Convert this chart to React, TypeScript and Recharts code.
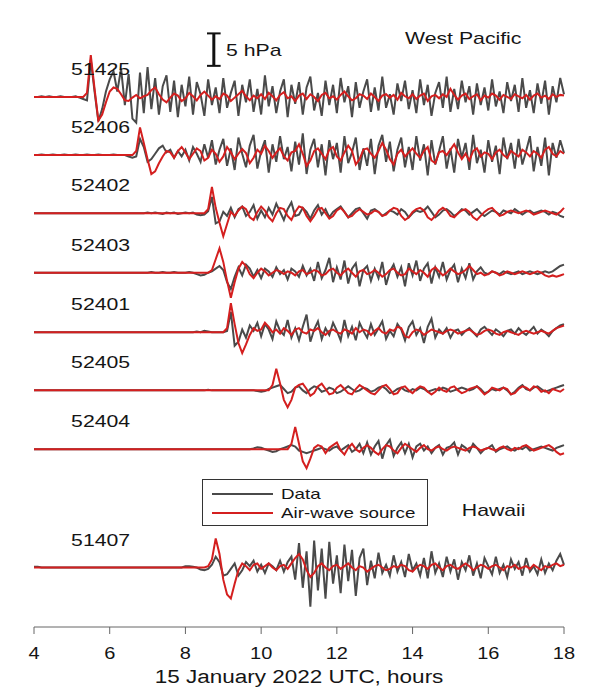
import { LineChart, Line, XAxis, YAxis, ReferenceDot, ReferenceLine } from 'recharts';

const FONT = '"Liberation Sans", Arial, Helvetica, sans-serif';
const DATA_COLOR = '#4a4a4a';
const SOURCE_COLOR = '#d41f1f';
const WIDE = 1.25; // the original lettering is drawn noticeably wide

// sample grid, hours (UTC) on 15 Jan 2022
const hours = Array.from({ length: 141 }, (_, i) => Math.round((4 + i * 0.1) * 10) / 10);
const xTicks = [4, 6, 8, 10, 12, 14, 16, 18];

const stationIds = ['51425', '52406', '52402', '52403', '52401', '52405', '52404', '51407'];

// pressure anomalies in hPa, one value per 0.1 h from 4.0 to 18.0
const data51425 = [
  0, 0, 0.1, 0, 0.1, 0, 0, 0.1, 0, 0,
  0, 0.1, -0.1, -0.3, -0.5, 5.5, 0.8, -3.6, -1.8, 0.8,
  2.6, 3.8, 0.8, 4.2, -1.2, 3.4, -3.2, -3.8, 3.6, -2.4,
  4.4, -1.8, 2.8, -2.6, 1.6, 3.2, -2.2, 2.4, -3.0, 1.8,
  -1.4, 3.0, -2.6, 2.2, 0.4, -2.8, 2.6, -1.2, 1.4, -2.4,
  2.8, -1.6, 0.6, 2.4, -2.8, 1.8, -0.8, 2.6, -2.2, 1.2,
  -2.6, 3.2, -1.4, 1.6, -2.4, 0.8, 2.6, -3.0, 1.8, -1.0,
  2.2, -2.6, 1.4, 3.0, -2.0, 0.6, -2.8, 2.4, -1.2, 1.8,
  -2.4, 2.8, -0.8, 1.6, -3.0, 2.2, -1.6, 0.8, 2.6, -2.2,
  1.4, -2.0, 3.0, -1.6, 0.4, -2.6, 2.0, -0.6, 2.4, -1.8,
  1.0, -2.4, 2.6, -1.2, 1.8, -2.8, 0.6, 2.2, -1.6, 3.0,
  -2.2, 1.2, -1.8, 2.4, -0.8, 1.6, -2.6, 2.0, -1.2, 1.4,
  -2.0, 2.6, -1.4, 0.8, -2.4, 2.2, -0.6, 1.8, -2.2, 2.8,
  -1.6, 1.0, -2.4, 2.0, -1.0, 2.4, -2.6, 1.6, -0.8, 2.8,
  0.4,
];
const source51425 = [
  0, 0, 0, 0, 0, 0, 0, 0, 0, 0,
  0, 0, 0, 0, 0.6, 6.2, 1.2, -3.5, -2.6, -0.8,
  0.8, 1.4, 1.2, 0.4, -0.5, -0.6, -0.1, 0.3, -0.2, 0.1,
  0.3, 1.0, 1.4, 0.4, -0.4, -0.8, -0.1, 0.5, 0.2, -0.6,
  -0.2, 0.6, 0.1, -0.5, 0.3, 0.8, 0.2, -0.4, 0.1, -0.3,
  0.5, 0.2, -0.6, -0.1, 0.4, 0.9, 0.1, -0.5, 0.2, -0.2,
  0.4, -0.3, 0.6, 0.1, -0.5, 0.3, 0.7, -0.2, 0.1, -0.6,
  0.2, 0.5, -0.3, 0.4, 0.0, -0.6, 0.3, 0.6, -0.2, 0.1,
  -0.4, 0.3, 0.8, 0.1, -0.5, -0.2, 0.4, 0.2, -0.3, 0.5,
  0.0, -0.6, 0.2, 0.4, -0.1, 0.3, -0.4, 0.6, 0.1, -0.2,
  0.4, -0.3, 0.2, 0.5, -0.6, 0.1, 0.3, -0.2, 0.4, 0.0,
  1.2, 0.3, -0.4, 0.2, 0.5, -0.3, 0.1, 0.4, -0.5, 0.2,
  -0.1, 0.5, 0.2, -0.4, 0.3, 0.0, -0.3, 0.4, 0.1, -0.2,
  0.3, -0.4, 0.2, 0.5, -0.1, 0.2, -0.3, 0.4, 0.0, 0.3,
  0.2,
];

const data52406 = [
  0, 0, 0.1, 0, 0, 0.1, 0, 0, 0.1, 0,
  0, 0.1, 0, 0, 0.1, 0, 0, 0.1, 0, 0,
  0, 0.1, 0, 0, 0, -0.2, -0.4, -0.2, 2.4, 1.2,
  -1.0, -0.6, 0.2, 1.0, 1.4, 0.4, 0.8, -0.4, 0.6, -0.2,
  0.8, -0.8, 1.2, 0.2, -1.0, 1.6, -0.4, 2.2, -1.4, 0.8,
  2.4, -1.6, 1.0, -2.2, 2.6, 0.2, -1.8, 1.4, 3.0, -2.0,
  0.6, 2.2, -2.6, 1.6, -1.0, 2.8, -0.6, 1.2, -2.4, 2.0,
  -1.4, 3.2, -2.8, 0.8, 2.4, -1.8, 1.6, -3.0, 2.2, -0.6,
  1.8, -2.6, 2.8, -1.2, 0.4, 2.6, -2.2, 1.0, -1.6, 2.4,
  -2.8, 1.4, 3.0, -1.0, 2.0, -2.4, 0.8, 2.6, -1.8, 1.2,
  -2.2, 2.8, -0.8, 1.6, -3.0, 2.2, -1.4, 0.6, 2.8, -2.0,
  1.0, -2.6, 2.4, -0.4, 1.8, -2.2, 3.0, -1.2, 0.8, -2.6,
  2.2, -1.0, 1.4, -2.8, 2.6, -0.6, 1.8, -2.0, 2.4, -1.4,
  0.6, 2.8, -2.4, 1.2, -1.6, 2.6, -3.0, 1.8, -0.4, 2.2,
  0.3,
];
const source52406 = [
  0, 0, 0, 0, 0, 0, 0, 0, 0, 0,
  0, 0, 0, 0, 0, 0, 0, 0, 0, 0,
  0, 0, 0, 0, 0, 0, 0, 0.6, 4.1, 1.8,
  -0.6, -2.8, -2.4, -1.2, -0.2, 0.6, 0.4, -0.4, 0.6, 1.2,
  0.4, -0.6, 0.2, 1.0, 0.6, -0.8, -0.4, 0.8, 0.2, -1.0,
  -0.2, 1.2, 0.4, -0.6, 0.2, 0.9, 0.3, -1.2, -0.4, 0.8,
  0.2, 1.4, 0.6, -0.4, 0.4, 1.0, -0.2, -0.8, 0.4, 0.6,
  1.6, 0.2, -1.6, -0.8, 0.6, 1.0, 0.2, -0.6, 0.8, 1.2,
  -0.2, -0.8, 0.4, 1.4, 0.6, -1.4, -0.6, 0.8, 1.0, 0.2,
  -0.4, 0.6, 1.8, 0.8, -0.6, -1.4, 0.2, 0.8, -0.2, 0.4,
  1.0, 0.2, -0.4, 0.6, 1.2, -0.8, -1.2, 0.4, 0.6, 0.0,
  0.8, 1.6, 0.4, -0.6, 0.2, -0.8, 0.6, 1.0, -0.2, 0.4,
  0.2, -0.6, 0.4, 0.8, 0.0, -0.4, 0.6, 0.2, -0.2, 0.8,
  0.4, -0.2, 0.6, 0.2, -0.4, 0.8, 1.2, 0.2, -0.2, 0.6,
  0.2,
];

const data52402 = [
  0, 0, 0, 0, 0, 0, 0, 0, 0, 0,
  0, 0, 0, 0, 0, 0, 0, 0, 0, 0,
  0, 0, 0, 0, 0, 0, 0, 0, 0, 0,
  0.1, 0, 0.1, 0, -0.1, 0.1, 0, 0.1, -0.1, 0,
  0.1, 0, 0.1, -0.2, -0.3, -0.2, 0.3, 2.4, -1.5, -1.2,
  0.2, -0.4, 0.8, -0.6, 0.6, 1.0, -0.4, 0.2, 1.2, -0.8,
  0.4, -0.6, 0.8, -0.2, 1.4, 0.2, -1.0, 0.6, 1.6, -0.4,
  -0.2, 0.8, 0.2, -0.8, 0.4, 1.2, -0.2, 0.6, -0.6, 0.2,
  0.6, 1.0, 0.2, -0.6, 0.0, 0.6, 0.8, 0.0, -0.8, 0.4,
  0.6, 0.2, -0.4, 0.0, 0.4, 0.2, -0.2, 0.6, 0.2, -0.6,
  0.0, 0.4, 0.2, 0.4, 1.0, 0.2, -0.6, -0.2, 0.4, 0.6,
  0.2, -0.4, 0.0, 0.6, 0.4, -0.2, 0.2, 0.6, 0.0, -0.4,
  0.0, 0.4, 0.2, -0.2, 0.4, 0.2, 0.0, 0.6, 0.2, -0.2,
  0.2, 0.4, 0.0, 0.2, 0.4, 0.2, -0.2, 0.2, 0.0, -0.4,
  -0.6,
];
const source52402 = [
  0, 0, 0, 0, 0, 0, 0, 0, 0, 0,
  0, 0, 0, 0, 0, 0, 0, 0, 0, 0,
  0, 0, 0, 0, 0, 0, 0, 0, 0, 0,
  0, 0, 0, 0, 0, 0, 0, 0, 0, 0,
  0, 0, 0, 0, 0, 0, 0.6, 3.9, 0.8, -1.4,
  -3.4, -1.6, 0.2, -0.4, 0.4, 1.0, 0.6, -0.6, -1.0, 0.2,
  1.0, 0.4, -0.6, -1.2, 0.0, 0.8, 0.6, -0.4, -1.0, 0.2,
  1.0, 0.8, -0.4, -1.2, -0.4, 0.6, 0.8, 0.0, -0.8, -0.4,
  0.4, 0.8, 0.2, -0.6, -0.4, 0.2, 0.6, 0.2, -0.2, 0.0,
  0.4, 0.2, -0.4, -0.2, 0.4, 0.8, 0.6, -0.4, -1.0, -0.6,
  0.2, 0.6, 0.8, 0.4, -0.6, -1.0, -0.4, 0.4, 0.8, 0.4,
  -0.4, -0.6, 0.0, 0.4, 0.6, 0.2, -0.6, -1.0, -0.4, 0.2,
  0.6, 0.8, 0.2, -0.4, -0.2, 0.2, 0.4, 0.2, 0.0, 0.2,
  0.4, 0.2, -0.2, 0.0, 0.2, 0.4, 0.2, 0.0, -0.2, 0.2,
  0.8,
];

const data52403 = [
  0, 0, 0, 0, 0, 0, 0, 0, 0, 0,
  0, 0, 0, 0, 0, 0, 0, 0, 0, 0,
  0, 0, 0, 0, 0, 0, 0, 0, 0, 0,
  0, 0.1, 0, 0, 0.1, 0, 0, 0.1, 0, 0,
  0, 0.1, 0, -0.2, -0.4, -0.3, 0.0, 0.2, 0.6, 1.0,
  0.4, -1.4, -2.4, -0.6, 0.8, -0.4, 1.2, 0.6, -0.6, 0.4,
  -0.8, 0.6, 0.2, -0.6, 0.8, -0.2, 0.4, -1.0, 0.6, 0.2,
  -0.6, 1.0, -0.4, 0.6, -1.2, 1.6, -0.8, 0.4, 2.2, -1.4,
  0.8, -1.0, 1.8, -1.6, 0.6, 1.4, -2.0, 0.4, 1.0, -1.2,
  0.6, -0.8, 1.6, -1.8, 0.2, 1.2, -0.6, 0.8, -2.0, 1.4,
  -0.4, 1.8, -1.2, 0.6, 1.4, -1.6, 0.8, -0.6, 1.6, -1.0,
  0.4, 1.2, -1.4, 0.6, -0.8, 1.4, -1.0, 0.2, 0.8, 0.0,
  -0.2, 0.2, 0.0, -0.2, 0.2, 0.0, -0.2, 0.0, 0.2, -0.2,
  0.0, 0.2, 0.0, -0.2, 0.0, 0.2, 0.0, 0.2, 0.6, 1.0,
  1.2,
];
const source52403 = [
  0, 0, 0, 0, 0, 0, 0, 0, 0, 0,
  0, 0, 0, 0, 0, 0, 0, 0, 0, 0,
  0, 0, 0, 0, 0, 0, 0, 0, 0, 0,
  0, 0, 0, 0, 0, 0, 0, 0, 0, 0,
  0, 0, 0, 0, 0, 0, 0, 0.4, 2.0, 3.6,
  1.6, -1.2, -3.7, -1.4, 0.6, 1.6, 1.0, -0.2, -0.8, 0.0,
  0.6, 0.2, -0.4, 0.0, 0.4, 0.2, -0.2, 0.2, 0.0, -0.4,
  0.2, 0.4, -0.2, 0.0, 0.4, 0.2, -0.4, -0.2, 0.4, 0.6,
  0.0, -0.4, 0.2, 0.6, 0.0, -0.6, 0.2, 0.4, -0.2, 0.0,
  0.4, 0.0, -0.6, -0.2, 0.4, 0.6, 0.0, -0.4, -0.2, 0.6,
  0.2, -0.2, 0.4, 0.0, -0.6, 0.4, 0.8, 0.2, -0.4, 0.0,
  0.6, 0.2, -0.2, 0.0, 0.4, 1.0, 0.4, -0.2, 0.0, -0.4,
  -0.2, 0.2, 0.0, -0.4, -0.2, 0.2, 0.0, -0.2, 0.0, 0.2,
  0.0, -0.2, 0.0, 0.2, 0.0, -0.4, -0.6, -0.4, -0.6, -0.4,
  -0.2,
];

const data52401 = [
  0, 0, 0, 0, 0, 0, 0, 0, 0, 0,
  0, 0, 0, 0, 0, 0, 0, 0, 0, 0,
  0, 0, 0, 0, 0, 0, 0, 0, 0, 0,
  0, 0, 0, 0, 0, 0, 0, 0, 0, 0,
  0, 0, 0, 0.1, 0, 0.2, 0.1, 0, 0, 0,
  0, 0.2, 3.0, -2.0, -1.4, 0.4, -0.8, 1.0, 0.2, 1.4,
  -0.6, 1.2, 0.4, -1.0, 1.6, 0.2, -0.4, 1.8, -0.8, 0.6,
  -1.2, 0.8, 2.6, -1.4, 0.4, 1.6, -1.0, 0.6, -0.4, 1.4,
  0.2, -1.2, 1.8, -0.6, 0.8, -1.2, 1.4, 0.2, -0.8, 1.2,
  -0.4, 0.6, 1.6, -1.0, 0.2, -0.6, 1.2, 0.4, -1.2, 0.8,
  1.6, -0.4, 0.6, -1.6, 0.8, 2.0, -0.8, 0.4, -0.2, 0.6,
  -0.8, 0.2, 0.4, -0.4, 0.2, 0.6, 0.0, -0.6, 0.4, 0.8,
  0.2, -0.4, 0.4, 0.0, -0.6, 0.2, 0.4, -0.2, 0.6, 0.0,
  -0.4, 0.2, 0.8, -0.2, 0.4, 0.0, -0.6, 0.2, 0.6, 1.0,
  1.2,
];
const source52401 = [
  0, 0, 0, 0, 0, 0, 0, 0, 0, 0,
  0, 0, 0, 0, 0, 0, 0, 0, 0, 0,
  0, 0, 0, 0, 0, 0, 0, 0, 0, 0,
  0, 0, 0, 0, 0, 0, 0, 0, 0, 0,
  0, 0, 0, 0, 0, 0, 0, 0, 0, 0,
  0, 0.6, 4.3, 1.2, -1.6, -3.1, -1.8, -0.4, 0.6, 0.2,
  0.4, 1.4, 0.8, 0.0, 0.4, -0.2, 0.6, 0.2, -0.4, 0.4,
  0.6, 0.0, -0.2, 0.4, 0.2, 0.6, 0.0, -0.4, 0.2, 0.4,
  0.0, -0.2, 0.4, 0.2, -0.2, 0.6, 0.0, 0.4, 0.2, -0.4,
  0.2, 0.6, 0.0, -0.2, 0.4, 0.2, 0.8, 0.6, -0.6, -0.8,
  0.0, 0.4, 0.2, -0.4, 0.0, 0.4, 0.2, 0.0, -0.2, 0.2,
  0.4, 0.2, -0.2, 0.0, 0.2, 0.4, 0.0, -0.4, -0.2, 0.2,
  0.4, 0.2, -0.2, -0.4, 0.0, 0.2, 0.0, -0.2, -0.4, 0.0,
  0.2, 0.0, -0.2, 0.0, 0.2, 0.0, -0.2, 0.2, 0.6, 0.8,
  1.0,
];

const data52405 = [
  0, 0, 0, 0, 0, 0, 0, 0, 0, 0,
  0, 0, 0, 0, 0, 0, 0, 0, 0, 0,
  0, 0, 0, 0, 0, 0, 0, 0, 0, 0,
  0, 0, 0, 0, 0, 0, 0, 0, 0, 0,
  0, 0, 0, 0, 0, 0, 0.1, 0, 0, 0,
  0, 0, 0, 0, 0, 0, 0, 0, 0, -0.1,
  -0.2, -0.1, 0.2, 0.4, 0.6, 0.8, 0.2, -0.4, -0.2, 0.4,
  0.6, 0.0, -0.4, 0.2, 0.6, 0.4, -0.2, 0.0, 0.4, 0.2,
  -0.4, -0.2, 0.2, 0.6, 0.2, -0.2, 0.0, 0.4, 0.2, -0.2,
  0.0, 0.4, 0.6, 0.2, -0.4, -0.2, 0.2, 0.4, 0.0, -0.2,
  0.2, 0.0, 0.4, 0.2, -0.2, 0.0, 0.2, 0.0, 0.4, 0.2,
  -0.2, 0.0, 0.2, 0.4, 0.2, 0.0, 0.2, 0.6, 0.2, -0.4,
  -0.2, 0.2, 0.0, 0.2, 0.4, 0.0, -0.6, -0.2, 0.4, 0.8,
  0.2, 0.0, 0.4, 0.6, 0.2, -0.2, 0.0, 0.2, 0.4, 0.6,
  0.8,
];
const source52405 = [
  0, 0, 0, 0, 0, 0, 0, 0, 0, 0,
  0, 0, 0, 0, 0, 0, 0, 0, 0, 0,
  0, 0, 0, 0, 0, 0, 0, 0, 0, 0,
  0, 0, 0, 0, 0, 0, 0, 0, 0, 0,
  0, 0, 0, 0, 0, 0, 0, 0, 0, 0,
  0, 0, 0, 0, 0, 0, 0, 0, 0, 0,
  0, 0, 0, 0.8, 3.2, 1.0, -1.4, -2.5, -1.4, 0.4,
  0.8, 1.0, 0.2, -0.8, -0.4, 0.6, 1.0, 0.2, -0.6, -0.4,
  0.4, 0.8, 0.2, -0.4, -0.6, 0.2, 0.8, 0.4, 0.0, -0.4,
  -0.6, 0.0, 0.6, 0.8, 0.2, -0.6, -0.4, 0.4, 0.6, 0.0,
  -0.4, 0.2, 0.6, 0.4, -0.2, -0.6, -0.2, 0.4, 0.0, -0.2,
  0.4, 0.6, 0.0, -0.4, -0.2, 0.2, 0.4, 0.6, 0.0, -0.6,
  -0.2, 0.4, 0.2, 0.0, 0.4, 0.2, -0.6, -0.4, 0.2, 0.6,
  0.4, 0.0, 0.6, 0.4, -0.2, 0.0, -0.4, 0.2, 0.0, -0.2,
  0.2,
];

const data52404 = [
  0, 0, 0, 0, 0, 0, 0, 0, 0, 0,
  0, 0, 0, 0, 0, 0, 0, 0, 0, 0,
  0, 0, 0, 0, 0, 0, 0, 0, 0, 0,
  0, 0, 0, 0, 0, 0, 0, 0, 0, 0,
  0, 0, 0, 0, 0, 0, 0, 0, 0, 0,
  0, 0, 0, 0, 0, 0, 0, 0, 0.1, 0.3,
  0.2, 0.0, -0.2, -0.4, -0.3, 0.0, 0.2, 0.4, 0.6, 0.4,
  -0.2, -0.4, -0.6, -0.4, -0.2, 0.0, 0.2, 0.0, -0.2, 0.2,
  0.4, -0.2, 0.2, 0.6, -0.4, 0.0, 0.8, -0.6, 1.0, -0.8,
  0.4, 1.2, -1.4, 0.6, 1.4, -1.0, 0.2, 1.0, -0.6, 0.8,
  -1.2, 0.4, 0.8, -0.2, 0.4, -0.6, 0.2, 0.6, -0.8, 0.2,
  0.4, 1.0, -0.8, 0.6, 0.2, -0.4, 0.8, 0.2, -0.6, 0.0,
  0.2, 0.6, -0.4, 0.0, 0.2, 0.4, 0.0, -0.2, 0.2, 0.0,
  0.4, -0.2, 0.0, 0.2, 0.4, 0.2, 0.0, -0.2, 0.2, 0.4,
  0.6,
];
const source52404 = [
  0, 0, 0, 0, 0, 0, 0, 0, 0, 0,
  0, 0, 0, 0, 0, 0, 0, 0, 0, 0,
  0, 0, 0, 0, 0, 0, 0, 0, 0, 0,
  0, 0, 0, 0, 0, 0, 0, 0, 0, 0,
  0, 0, 0, 0, 0, 0, 0, 0, 0, 0,
  0, 0, 0, 0, 0, 0, 0, 0, 0, 0,
  0, 0, 0, 0, 0, 0, 0, 0, 0.8, 3.3,
  0.8, -1.8, -2.8, -1.4, 0.2, 0.6, 0.4, -0.6, 0.2, 0.6,
  1.0, -0.2, -0.8, 0.2, 0.8, 0.0, -0.4, 0.2, 0.6, 0.2,
  -0.4, -0.8, 0.0, 0.6, 0.4, -0.2, -0.6, 0.2, 0.8, 0.4,
  0.0, -0.4, 0.2, 0.6, 0.0, -0.2, 0.2, 0.4, 0.0, -0.2,
  0.2, 0.4, 0.2, 0.0, -0.2, 0.2, 0.4, 0.2, -0.2, 0.0,
  0.2, 0.0, -0.2, 0.2, 0.4, 0.0, -0.2, 0.2, 0.0, 0.4,
  0.6, 0.2, -0.2, 0.0, 0.2, 0.4, 0.6, 0.2, -0.4, -0.8,
  -0.6,
];

const data51407 = [
  0.1, 0.1, 0, 0, 0, 0, 0, 0, 0, 0,
  0, 0, 0, 0, 0, 0, 0, 0, 0, 0,
  0, 0, 0, 0, 0, 0, 0, 0, 0, 0,
  0, 0, 0, 0, 0, 0, 0, 0, 0, 0,
  0.2, 0.2, 0.1, 0.0, -0.3, -0.4, -0.2, 0.4, 1.6, 0.8,
  -1.2, -1.0, -0.2, 0.6, -1.2, -0.4, 0.8, 0.2, 1.0, -0.6,
  0.4, -0.8, 0.6, 0.2, -0.4, 1.0, -0.6, 0.8, 1.6, -1.8,
  3.6, -3.0, 2.4, -5.8, 4.0, -3.4, 2.8, -4.6, 3.8, -2.4,
  1.8, -3.8, 3.4, -2.0, 2.6, -4.2, 1.4, 2.8, -2.6, 1.0,
  -1.6, 2.2, -0.8, 0.4, -1.2, 1.8, -0.6, 0.8, -1.4, 2.0,
  -0.4, 0.6, -1.2, 1.4, -1.6, 2.4, -0.8, 0.6, -1.4, 1.6,
  -0.6, 1.2, -1.8, 0.8, -0.4, 1.8, -1.2, 0.6, -1.6, 1.4,
  0.2, -1.0, 1.6, -0.8, 0.4, -1.4, 1.2, -0.2, 0.8, -1.2,
  1.4, -0.6, 0.2, -1.0, 1.2, -0.8, 0.6, -0.4, 1.0, 2.0,
  0.4,
];
const source51407 = [
  0, 0, 0, 0, 0, 0, 0, 0, 0, 0,
  0, 0, 0, 0, 0, 0, 0, 0, 0, 0,
  0, 0, 0, 0, 0, 0, 0, 0, 0, 0,
  0, 0, 0, 0, 0, 0, 0, 0, 0, 0,
  0, 0, 0, 0, 0, 0, 0.2, 1.2, 4.3, 2.0,
  -1.8, -4.0, -4.6, -2.4, -0.4, 0.6, 0.2, -0.4, 0.4, 0.6,
  -0.2, 0.2, 0.6, 0.0, -0.4, 0.2, 0.4, -0.2, 0.6, 1.4,
  2.0, 1.2, -0.4, -1.4, -0.8, 0.2, 0.6, 0.0, -0.4, 0.2,
  0.4, -0.2, 0.2, 0.6, 0.0, -0.4, 0.2, 0.0, -0.6, -0.2,
  0.2, 0.4, 0.0, -0.4, -0.2, 0.2, 0.0, 0.4, 0.2, -0.4,
  -0.6, 0.0, 0.4, 0.2, -0.2, 0.4, 0.6, 0.0, -0.4, 0.2,
  0.4, 0.0, -0.2, 0.2, 0.6, 0.2, -0.4, 0.0, 0.4, 0.2,
  -0.2, 0.2, 0.4, 0.0, -0.4, 0.2, 0.0, 0.4, -0.2, 0.0,
  0.2, -0.2, 0.4, 0.0, -0.4, 0.2, 0.0, 0.4, 0.6, 0.2,
  0.4,
];

const observed: Record<string, number[]> = {
  '51425': data51425, '52406': data52406, '52402': data52402, '52403': data52403,
  '52401': data52401, '52405': data52405, '52404': data52404, '51407': data51407,
};
const modelled: Record<string, number[]> = {
  '51425': source51425, '52406': source52406, '52402': source52402, '52403': source52403,
  '52401': source52401, '52405': source52405, '52404': source52404, '51407': source51407,
};

// vertical stacking of the traces (hPa units on the hidden y scale)
const baselines: Record<string, number> = {
  '51425': 78.4, '52406': 69.8, '52402': 61.2, '52403': 52.4,
  '52401': 43.6, '52405': 35.0, '52404': 26.3, '51407': 8.8,
};

const rows = hours.map((t, i) => {
  const row: Record<string, number> = { t };
  stationIds.forEach((id) => {
    row[`d${id}`] = baselines[id] + (observed[id][i] ?? 0);
    row[`s${id}`] = baselines[id] + (modelled[id][i] ?? 0);
  });
  return row;
});

const legendItems = [
  { name: 'Data', color: DATA_COLOR },
  { name: 'Air-wave source', color: SOURCE_COLOR },
];

function WideText({ x, y, size = 17, anchor = 'start', baseline = 'central', children }: any) {
  return (
    <text
      transform={`translate(${x},${y}) scale(${WIDE},1)`}
      x={0}
      y={0}
      textAnchor={anchor}
      dominantBaseline={baseline}
      fontSize={size}
      fontFamily={FONT}
      fill="#151515"
    >
      {children}
    </text>
  );
}

// label renderer for zero-radius reference dots
const wideLabel = (value: string) => (props: any) => {
  const vb = props.viewBox || {};
  return <WideText x={vb.x} y={vb.y}>{value}</WideText>;
};

function HourTick(props: any) {
  const { x, y, payload } = props;
  return <WideText x={x} y={y + 15} size={16} anchor="middle">{payload.value}</WideText>;
}

function AxisTitle(props: any) {
  const vb = props.viewBox || {};
  return (
    <WideText x={vb.x + vb.width / 2} y={vb.y + 50} size={18} anchor="middle">
      15 January 2022 UTC, hours
    </WideText>
  );
}

function LegendBox() {
  return (
    <div
      style={{
        position: 'absolute', left: 202, top: 479, width: 226, height: 47,
        boxSizing: 'border-box', border: '1px solid #333', background: '#fff',
        padding: '4px 0 0 9px', fontFamily: FONT, fontSize: 15, color: '#151515',
      }}
    >
      {legendItems.map((item) => (
        <div key={item.name} style={{ display: 'flex', alignItems: 'center', height: 19 }}>
          <span style={{ display: 'inline-block', width: 61, borderTop: `2px solid ${item.color}`, marginRight: 8 }} />
          <span style={{ display: 'inline-block', transform: `scaleX(${WIDE})`, transformOrigin: 'left center', whiteSpace: 'nowrap' }}>
            {item.name}
          </span>
        </div>
      ))}
    </div>
  );
}

export default function App() {
  return (
    <div style={{ position: 'absolute', left: 0, top: 0, width: 595, height: 690, background: '#fff' }}>
      <LineChart width={595} height={690} data={rows} margin={{ top: 5, right: 31, bottom: 3, left: 34 }}>
        <XAxis
          type="number"
          dataKey="t"
          domain={[4, 18]}
          ticks={xTicks}
          tickSize={7}
          tickMargin={5}
          height={60}
          stroke="#666"
          tick={<HourTick />}
          label={<AxisTitle />}
        />
        <YAxis type="number" domain={[0, 92]} width={0} tick={false} tickLine={false} stroke="#777" />
        {stationIds.map((id) => (
          <Line key={`d${id}`} dataKey={`d${id}`} type="linear" stroke={DATA_COLOR} strokeWidth={2} dot={false} isAnimationActive={false} />
        ))}
        {stationIds.map((id) => (
          <Line key={`s${id}`} dataKey={`s${id}`} type="linear" stroke={SOURCE_COLOR} strokeWidth={2} dot={false} isAnimationActive={false} />
        ))}
        {stationIds.map((id) => (
          <ReferenceDot key={`lab${id}`} x={4.98} y={baselines[id] + 4.1} r={0} fill="none" stroke="none" label={wideLabel(id)} />
        ))}
        <ReferenceDot x={13.8} y={87.1} r={0} fill="none" stroke="none" label={wideLabel('West Pacific')} />
        <ReferenceDot x={15.3} y={17.3} r={0} fill="none" stroke="none" label={wideLabel('Hawaii')} />
        {/* 5 hPa scale bar */}
        <ReferenceLine segment={[{ x: 8.75, y: 83.0 }, { x: 8.75, y: 87.8 }]} stroke="#111" strokeWidth={3} />
        <ReferenceLine segment={[{ x: 8.57, y: 83.0 }, { x: 8.93, y: 83.0 }]} stroke="#111" strokeWidth={2} />
        <ReferenceLine segment={[{ x: 8.57, y: 87.8 }, { x: 8.93, y: 87.8 }]} stroke="#111" strokeWidth={2} />
        <ReferenceDot x={9.07} y={85.3} r={0} fill="none" stroke="none" label={wideLabel('5 hPa')} />
      </LineChart>
      <LegendBox />
    </div>
  );
}
